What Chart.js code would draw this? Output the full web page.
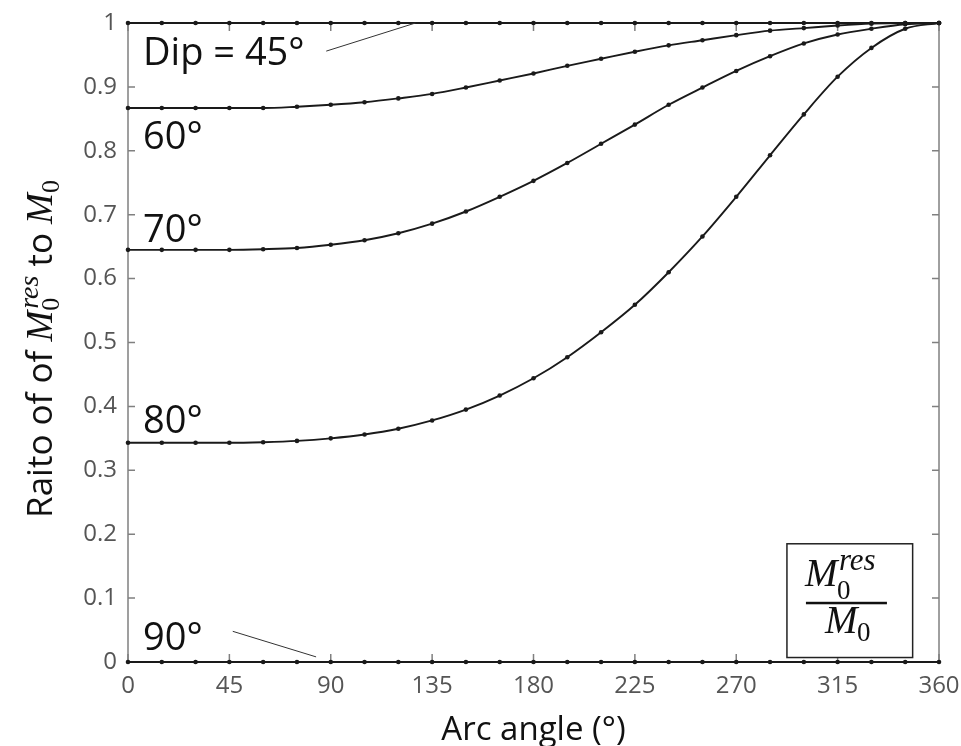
<!DOCTYPE html>
<html>
<head>
    <title>Ratio of M0res to M0</title>
    <style>
        body { margin: 0; background: #fff; }
        #wrap { width: 961px; height: 746px; }
    </style>
</head>
<body>
    <div id="wrap"><canvas id="ratio-chart" width="961" height="746"></canvas></div>

    <script src="https://cdn.jsdelivr.net/npm/chart.js"></script>
    <script>
        // Arc angle samples (degrees)
        const arcAngles = [0, 15, 30, 45, 60, 75, 90, 105, 120, 135, 150, 165, 180,
                           195, 210, 225, 240, 255, 270, 285, 300, 315, 330, 345, 360];

        // Ratio values, one list per dip
        const dip45 = [1, 1, 1, 1, 1, 1, 1, 1, 1, 1, 1, 1, 1, 1, 1, 1, 1, 1, 1, 1, 1, 1, 1, 1, 1];
        const dip60 = [0.867, 0.867, 0.867, 0.867, 0.867, 0.869, 0.872, 0.876, 0.882, 0.889, 0.899, 0.910, 0.921,
                       0.933, 0.944, 0.955, 0.965, 0.973, 0.981, 0.988, 0.992, 0.996, 0.999, 1.0, 1.0];
        const dip70 = [0.645, 0.645, 0.645, 0.645, 0.646, 0.648, 0.653, 0.660, 0.671, 0.686, 0.705, 0.728, 0.753,
                       0.781, 0.811, 0.841, 0.872, 0.899, 0.925, 0.948, 0.968, 0.982, 0.991, 0.998, 1.0];
        const dip80 = [0.343, 0.343, 0.343, 0.343, 0.344, 0.346, 0.350, 0.356, 0.365, 0.378, 0.395, 0.417, 0.444,
                       0.477, 0.516, 0.559, 0.610, 0.666, 0.728, 0.793, 0.857, 0.916, 0.961, 0.991, 1.0];
        const dip90 = [0, 0, 0, 0, 0, 0, 0, 0, 0, 0, 0, 0, 0, 0, 0, 0, 0, 0, 0, 0, 0, 0, 0, 0, 0];

        const dipNames = ['45', '60', '70', '80', '90'];
        const dipSeries = [dip45, dip60, dip70, dip80, dip90];

        const xTicks = [0, 45, 90, 135, 180, 225, 270, 315, 360];
        const yTicks = [0, 0.1, 0.2, 0.3, 0.4, 0.5, 0.6, 0.7, 0.8, 0.9, 1];
        const yTickLabels = ['0', '0.1', '0.2', '0.3', '0.4', '0.5', '0.6', '0.7', '0.8', '0.9', '1'];

        const sans = '"Open Sans", "Noto Sans", sans-serif';
        const serif = '"Liberation Serif", "DejaVu Serif", serif';

        function toPoints(values) {
            return values.map((v, i) => ({ x: arcAngles[i], y: v }));
        }

        // frame + inward ticks, like the original plot
        const framePlugin = {
            id: 'frame',
            beforeDatasetsDraw(chart) {
                const ctx = chart.ctx;
                const a = chart.chartArea;
                const xs = chart.scales.x, ys = chart.scales.y;
                ctx.save();
                ctx.strokeStyle = '#808080';
                ctx.lineWidth = 1.5;
                ctx.strokeRect(a.left, a.top, a.right - a.left, a.bottom - a.top);
                ctx.beginPath();
                xTicks.forEach(t => {
                    const px = xs.getPixelForValue(t);
                    ctx.moveTo(px, a.bottom); ctx.lineTo(px, a.bottom - 8);
                    ctx.moveTo(px, a.top); ctx.lineTo(px, a.top + 8);
                });
                yTicks.forEach(t => {
                    const py = ys.getPixelForValue(t);
                    ctx.moveTo(a.left, py); ctx.lineTo(a.left + 7, py);
                    ctx.moveTo(a.right, py); ctx.lineTo(a.right - 7, py);
                });
                ctx.stroke();
                ctx.restore();
            }
        };

        // curve labels, leader lines, axis titles and the formula box
        const notesPlugin = {
            id: 'notes',
            afterDraw(chart) {
                const ctx = chart.ctx;
                const xs = chart.scales.x, ys = chart.scales.y;
                const a = chart.chartArea;
                const X = v => xs.getPixelForValue(v);
                const Y = v => ys.getPixelForValue(v);

                ctx.save();
                ctx.fillStyle = '#111';
                ctx.textBaseline = 'alphabetic';
                ctx.textAlign = 'left';
                ctx.font = '38px ' + sans;
                const left = a.left + 15;
                ctx.fillText('Dip = 45°', left, Y(0.934));
                ctx.fillText('60°', left, Y(0.803));
                ctx.fillText('70°', left, Y(0.658));
                ctx.fillText('80°', left, Y(0.358));
                ctx.fillText('90°', left, Y(0.018));

                // leader lines
                ctx.strokeStyle = '#333';
                ctx.lineWidth = 1;
                ctx.beginPath();
                ctx.moveTo(X(88), Y(0.956)); ctx.lineTo(X(127.6), Y(1));
                ctx.moveTo(X(46.5), Y(0.048)); ctx.lineTo(X(83.5), Y(0.008));
                ctx.stroke();

                // x title
                ctx.fillStyle = '#111';
                ctx.font = '33px ' + sans;
                ctx.textAlign = 'center';
                ctx.fillText('Arc angle (°)', (a.left + a.right) / 2, 740);

                // y title, rotated, built from pieces
                const segs = [
                    { t: 'Raito of of ', f: '35px ' + sans, dy: 0 },
                    { t: 'M', f: 'italic 37px ' + serif, dy: 0 },
                    { stack: true, sup: 'res', sub: '0', fsup: 'italic 28px ' + serif, fsub: '26px ' + serif },
                    { t: ' to ', f: '35px ' + sans, dy: 0 },
                    { t: 'M', f: 'italic 37px ' + serif, dy: 0 },
                    { t: '0', f: '26px ' + serif, dy: 7 }
                ];
                let total = 0;
                segs.forEach(s => {
                    if (s.stack) {
                        ctx.font = s.fsup; const w1 = ctx.measureText(s.sup).width;
                        ctx.font = s.fsub; const w2 = ctx.measureText(s.sub).width;
                        s.w = Math.max(w1, w2) + 2;
                    } else {
                        ctx.font = s.f; s.w = ctx.measureText(s.t).width;
                    }
                    total += s.w;
                });
                ctx.save();
                ctx.translate(52, 349);
                ctx.rotate(-Math.PI / 2);
                ctx.textAlign = 'left';
                let cx = -total / 2;
                segs.forEach(s => {
                    if (s.stack) {
                        ctx.font = s.fsup; ctx.fillText(s.sup, cx + 2, -14);
                        ctx.font = s.fsub; ctx.fillText(s.sub, cx, 7);
                    } else {
                        ctx.font = s.f; ctx.fillText(s.t, cx, s.dy);
                    }
                    cx += s.w;
                });
                ctx.restore();

                // formula box
                const bx0 = X(292.5), bx1 = X(348.3), by0 = Y(0.185), by1 = Y(0.007);
                ctx.fillStyle = '#fff';
                ctx.fillRect(bx0, by0, bx1 - bx0, by1 - by0);
                ctx.strokeStyle = '#222';
                ctx.lineWidth = 1.5;
                ctx.strokeRect(bx0, by0, bx1 - bx0, by1 - by0);
                ctx.fillStyle = '#111';
                ctx.textAlign = 'left';
                ctx.font = 'italic 39px ' + serif;
                ctx.fillText('M', bx0 + 18, by0 + 42);
                ctx.font = 'italic 31px ' + serif;
                ctx.fillText('res', bx0 + 52, by0 + 26);
                ctx.font = '27px ' + serif;
                ctx.fillText('0', bx0 + 50, by0 + 55);
                ctx.fillRect(bx0 + 19, by0 + 58, 81, 2.5);
                ctx.font = 'italic 39px ' + serif;
                ctx.fillText('M', bx0 + 38, by0 + 89);
                ctx.font = '27px ' + serif;
                ctx.fillText('0', bx0 + 70, by0 + 97);
                ctx.restore();
            }
        };

        function createRatioChart() {
            const datasets = dipSeries.map((vals, i) => ({
                label: 'Dip ' + dipNames[i],
                data: toPoints(vals),
                borderColor: '#1a1a1a',
                backgroundColor: '#1a1a1a',
                borderWidth: 1.9,
                pointRadius: 2.3,
                pointBorderWidth: 0,
                cubicInterpolationMode: 'monotone',
                clip: false
            }));

            const ctx = document.getElementById('ratio-chart').getContext('2d');
            return new Chart(ctx, {
                type: 'line',
                data: { datasets: datasets },
                options: {
                    responsive: false,
                    animation: false,
                    layout: { padding: { top: 23, right: 22, left: 0, bottom: 0 } },
                    plugins: { legend: { display: false }, tooltip: { enabled: false } },
                    scales: {
                        x: {
                            type: 'linear',
                            min: 0, max: 360,
                            afterFit: s => { s.height = 84; s.paddingLeft = 0; s.paddingRight = 0; },
                            afterBuildTicks: s => { s.ticks = xTicks.map(v => ({ value: v })); },
                            grid: { display: false, drawTicks: false },
                            border: { display: false },
                            ticks: { color: '#555', font: { family: sans, size: 24 }, padding: 10, maxRotation: 0 }
                        },
                        y: {
                            type: 'linear',
                            min: 0, max: 1,
                            afterFit: s => { s.width = 128; s.paddingTop = 0; s.paddingBottom = 0; },
                            afterBuildTicks: s => { s.ticks = yTicks.map(v => ({ value: v })); },
                            grid: { display: false, drawTicks: false },
                            border: { display: false },
                            ticks: {
                                color: '#555', font: { family: sans, size: 24 }, padding: 11,
                                callback: (v, i) => yTickLabels[i]
                            }
                        }
                    }
                },
                plugins: [framePlugin, notesPlugin]
            });
        }

        createRatioChart();
    </script>
</body>
</html>
